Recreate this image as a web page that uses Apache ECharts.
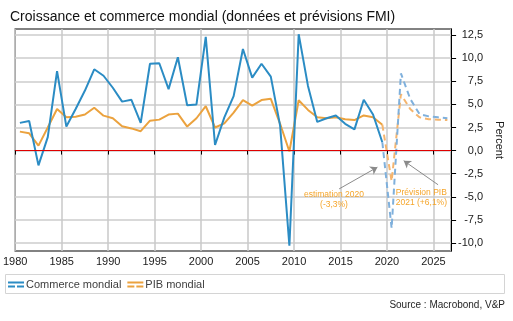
<!DOCTYPE html>
<html><head><meta charset="utf-8">
<script src="https://cdn.jsdelivr.net/npm/echarts@6/dist/echarts.min.js"></script>
<style>html,body{margin:0;padding:0;background:#fff}#c{width:513px;height:321px}</style>
</head><body><div id="c"></div>
<script>
// ---- data ----
const years = [1980,1981,1982,1983,1984,1985,1986,1987,1988,1989,
  1990,1991,1992,1993,1994,1995,1996,1997,1998,1999,
  2000,2001,2002,2003,2004,2005,2006,2007,2008,2009,
  2010,2011,2012,2013,2014,2015,2016,2017,2018,2019,
  2020,2021,2022,2023,2024,2025,2026];
const commerce = [3.0,3.2,-1.6,1.45,8.6,2.6,4.5,6.5,8.8,8.1,
  6.8,5.3,5.5,3.0,9.4,9.45,6.65,10.1,4.9,5.0,
  12.3,0.6,3.6,5.9,11.0,7.9,9.4,8.0,2.7,-10.3,
  12.6,7.0,3.1,3.5,3.8,2.9,2.3,5.5,3.9,0.9,
  -8.4,8.35,5.6,3.95,3.7,3.6,3.5];
const pib = [2.05,1.87,0.54,2.5,4.5,3.6,3.67,3.9,4.64,3.78,
  3.5,2.63,2.4,2.1,3.24,3.35,3.9,4.0,2.6,3.5,
  4.8,2.5,2.95,4.1,5.47,4.86,5.47,5.6,2.9,-0.1,
  5.45,4.4,3.6,3.5,3.6,3.4,3.3,3.8,3.6,2.8,
  -3.3,6.1,4.5,3.6,3.4,3.35,3.3];
const lastActualYear = 2019;
const yTicks = [-10,-7.5,-5,-2.5,0,2.5,5,7.5,10,12.5];
const seriesNames = ['Commerce mondial','PIB mondial'];
const title = 'Croissance et commerce mondial (données et prévisions FMI)';
const source = 'Source : Macrobond, V&P';
const note2020 = 'estimation 2020\n(-3,3%)';
const note2021 = 'Prévision PIB\n2021 (+6,1%)';

// ---- build ----
const MID = 0.5; // annual values plotted mid-year
function pairs(vals, from, to){
  const out=[];
  years.forEach((y,i)=>{ if(y>=from && y<=to) out.push([y+MID, vals[i]]); });
  return out;
}
const BLUE='#2b8cc4', BLUE_L='#7fb0dc', ORANGE='#eba23e', ORANGE_L='#f5b56e';
const iconPath='path://M0,0H16V2H0Z M0,4H7V6H0Z M9,4H16V6H9Z';
const fmt = v => v.toFixed(1).replace('.', ',');

const chart = echarts.init(document.getElementById('c'), null, {renderer:'canvas'});
const option = {
  animation:false,
  textStyle:{fontFamily:'Liberation Sans'},
  title:{text:title,left:5,top:5,textStyle:{fontFamily:'Liberation Sans',fontSize:14,fontWeight:'normal',color:'#111'}},
  grid:{left:14,right:55,top:29,bottom:70,show:true,borderColor:'#5a5a5a',borderWidth:1.5,backgroundColor:'transparent'},
  legend:{left:8,top:279,itemWidth:16,itemHeight:6,itemGap:6,padding:0,
    textStyle:{fontSize:11,color:'#404040',padding:[0,0,0,-3]},
    data:[{name:seriesNames[0],icon:iconPath},{name:seriesNames[1],icon:iconPath}]},
  xAxis:{type:'value',min:1980,max:2026.9,interval:5,
    axisLine:{show:true,lineStyle:{color:'#000',width:1}},
    axisTick:{show:true,length:4,lineStyle:{color:'#000'}},
    axisLabel:{color:'#1a1a1a',fontSize:11,margin:5,showMaxLabel:false,formatter:v=>String(v)},
    splitLine:{show:true,lineStyle:{color:'#c8c8c8',width:1.5}}},
  yAxis:{type:'value',position:'right',min:-10.87,max:13.16,
    name:'Percent',nameLocation:'middle',nameRotate:-90,nameGap:40,
    nameTextStyle:{fontSize:11,color:'#1a1a1a'},
    axisLine:{show:true,lineStyle:{color:'#000',width:1}},
    axisTick:{show:true,length:5,customValues:yTicks,lineStyle:{color:'#000'}},
    axisLabel:{customValues:yTicks,align:'right',margin:32,fontSize:11,color:'#1a1a1a',formatter:fmt},
    splitLine:{show:true,lineStyle:{color:'#d9d9d9',width:2}}},
  series:[
    {name:seriesNames[0],type:'line',data:pairs(commerce,1980,lastActualYear),symbol:'none',
      lineStyle:{color:BLUE,width:2},itemStyle:{color:BLUE},z:4,
      markLine:{silent:true,symbol:'none',label:{show:false},animation:false,
        lineStyle:{color:'#e00000',width:1,type:'solid'},data:[{yAxis:0}]}},
    {name:seriesNames[1],type:'line',data:pairs(pib,1980,lastActualYear),symbol:'none',
      lineStyle:{color:ORANGE,width:2},itemStyle:{color:ORANGE},z:3},
    {name:seriesNames[0],type:'line',data:pairs(commerce,lastActualYear,2026),symbol:'none',
      lineStyle:{color:BLUE_L,width:2,type:[6,4]},itemStyle:{color:BLUE},z:4},
    {name:seriesNames[1],type:'line',data:pairs(pib,lastActualYear,2026),symbol:'none',
      lineStyle:{color:ORANGE_L,width:2,type:[6,4]},itemStyle:{color:ORANGE},z:3,
      markLine:{silent:true,label:{show:false},symbol:['none','arrow'],symbolSize:7,animation:false,
        lineStyle:{color:'#8a8a8a',width:1,type:'solid'},
        data:[
          [{coord:[2014.85,-4.15]},{coord:[2018.97,-1.8]}],
          [{coord:[2025.5,-3.7]},{coord:[2021.8,-1.1]}]
        ]}}
  ]
};
chart.setOption(option);
const p1 = chart.convertToPixel({gridIndex:0},[2014.3,-5.3]);
const p2 = chart.convertToPixel({gridIndex:0},[2023.7,-5.1]);
const noteStyle = {align:'center',verticalAlign:'middle',fontFamily:'Liberation Sans',fontSize:8.5,lineHeight:10,fill:'#f5a52a'};
chart.setOption({graphic:[
  {type:'rect',shape:{x:5.5,y:274.5,width:499,height:19},style:{fill:'none',stroke:'#d4d4d4',lineWidth:1},silent:true},
  {type:'text',right:8,top:300,style:{text:source,fontFamily:'Liberation Sans',fontSize:10,fill:'#262626'}},
  {type:'text',x:p1[0],y:p1[1],style:Object.assign({text:note2020},noteStyle),z:10},
  {type:'text',x:p2[0],y:p2[1],style:Object.assign({text:note2021},noteStyle),z:10}
]});
</script></body></html>
